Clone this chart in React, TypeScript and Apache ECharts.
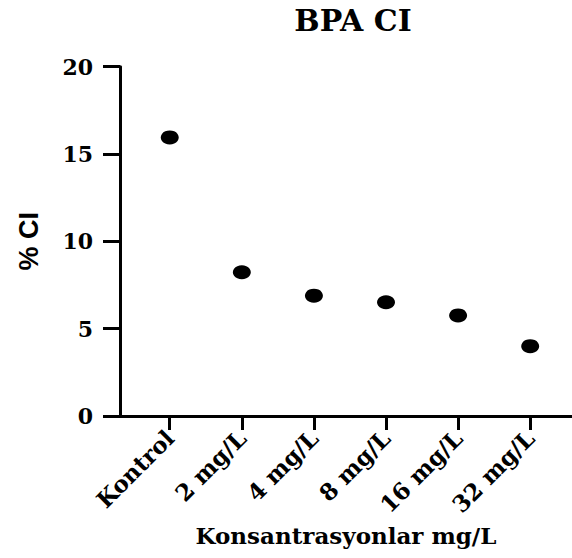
import React, { useEffect, useRef } from "react";
import * as echarts from "echarts";

const categories = ["Kontrol", "2 mg/L", "4 mg/L", "8 mg/L", "16 mg/L", "32 mg/L"];
const ciValues = [15.95, 8.23, 6.89, 6.51, 5.76, 4.0];
const yTicks = [0, 5, 10, 15, 20];
const categoryIndex = [0, 1, 2, 3, 4, 5];

const SERIF = "'DejaVu Serif', 'Liberation Serif', serif";
const SANS = "'Liberation Sans', Arial, sans-serif";

export default function App() {
  const ref = useRef<HTMLDivElement>(null);
  useEffect(() => {
    document.body.style.margin = "0";
    const chart = echarts.init(ref.current!, null, { renderer: "svg" });
    chart.setOption({
      animation: false,
      backgroundColor: "#ffffff",
      title: {
        text: "BPA CI",
        left: 348,
        top: 0,
        textAlign: "center",
        textStyle: { fontFamily: SERIF, fontWeight: "bold", fontSize: 30, color: "#000" },
      },
      grid: { left: 120, right: 0, top: 66.7, bottom: 142, outerBoundsMode: "none" },
      xAxis: {
        type: "value",
        min: -0.69,
        max: 5.58,
        name: "Konsantrasyonlar mg/L",
        nameLocation: "middle",
        nameGap: 108,
        nameTextStyle: { fontFamily: SERIF, fontWeight: "bold", fontSize: 23, color: "#000" },
        axisLine: { show: true, onZero: false, lineStyle: { color: "#000", width: 3 } },
        axisTick: { show: true, length: 14, customValues: categoryIndex, lineStyle: { color: "#000", width: 3 } },
        axisLabel: {
          customValues: categoryIndex,
          rotate: 45,
          margin: 18,
          fontFamily: SERIF,
          fontWeight: "bold",
          fontSize: 23,
          color: "#000",
          formatter: (v: number) => categories[Math.round(v)] ?? "",
        },
        splitLine: { show: false },
      },
      yAxis: {
        type: "value",
        min: yTicks[0],
        max: yTicks[yTicks.length - 1],
        interval: 5,
        name: "% CI",
        nameLocation: "middle",
        nameGap: 78,
        nameRotate: 90,
        nameTextStyle: { fontFamily: SANS, fontWeight: "bold", fontSize: 27, color: "#000" },
        axisLine: { show: true, onZero: false, lineStyle: { color: "#000", width: 3 } },
        axisTick: { show: true, length: 17, lineStyle: { color: "#000", width: 3 } },
        axisLabel: {
          margin: 27,
          fontFamily: SERIF,
          fontWeight: "bold",
          fontSize: 22,
          color: "#000",
        },
        splitLine: { show: false },
      },
      series: [
        {
          type: "scatter",
          symbol: "circle",
          symbolSize: [18, 14],
          itemStyle: { color: "#000", opacity: 1 },
          data: ciValues.map((v, i) => [categoryIndex[i], v]),
        },
      ],
    });
    return () => chart.dispose();
  }, []);
  return <div ref={ref} style={{ position: "absolute", left: 0, top: 0, width: 572, height: 558 }} />;
}
